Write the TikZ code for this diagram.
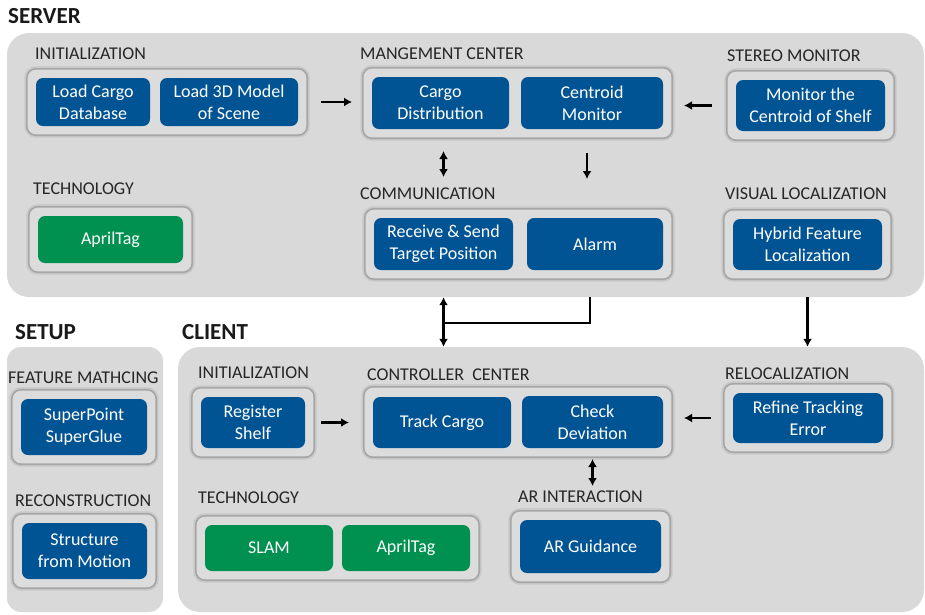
\documentclass[tikz,border=0pt]{standalone}
\usepackage{fontspec}
\setmainfont{Carlito}
\usetikzlibrary{arrows.meta,positioning,fit,calc}
\definecolor{panelgray}{HTML}{D9D9D9}
\definecolor{framefill}{HTML}{DCDCDC}
\definecolor{frameedge}{HTML}{A6A6A6}
\definecolor{frameglow}{HTML}{C8C8C8}
\definecolor{taskblue}{HTML}{005494}
\definecolor{techgreen}{HTML}{009150}
\pgfdeclarelayer{panels}
\pgfdeclarelayer{frames}
\pgfsetlayers{panels,frames,main}

\begin{document}
\begin{tikzpicture}[
    x=1pt, y=-1pt,
    task/.style={rectangle, fill=taskblue, rounded corners=7pt, text=white, align=center, font=\fontsize{18}{22}\selectfont, inner sep=0pt, minimum height=52pt},
    tech/.style={task, fill=techgreen, minimum height=47pt},
    grp/.style={rectangle, rounded corners=9pt, fill=framefill, draw=frameedge, line width=1.6pt, inner sep=9pt, preaction={draw=frameglow, line width=5pt}},
    grplabel/.style={anchor=base west, inner sep=0pt, font=\fontsize{18}{22}\selectfont, text=black!85},
    title/.style={anchor=base west, inner sep=0pt, font=\fontsize{23}{28}\selectfont\bfseries, text=black!90},
    panel/.style={rectangle, fill=panelgray, inner sep=0pt},
    arrow/.style={-{Latex[length=8pt,width=9pt]}, line width=2.2pt},
    biarrow/.style={{Latex[length=8pt,width=9pt]}-{Latex[length=8pt,width=9pt]}, line width=2.2pt}
]
\useasboundingbox (0,0) rectangle (925,614);

% server
\node[task, minimum width=114pt, minimum height=48pt] (loaddb) at (93,102) {Load Cargo\\Database};
\node[task, minimum width=138pt, minimum height=48pt] (loadmodel) at (229,102) {Load 3D Model\\of Scene};
\node[task, minimum width=137pt] (cargodist) at (440.5,103) {Cargo\\Distribution};
\node[task, minimum width=142pt] (centroid) at (592,103) {Centroid\\Monitor};
\node[task, minimum width=149pt, minimum height=51pt] (monshelf) at (810.5,105.5) {Monitor the\\Centroid of Shelf};
\node[tech, minimum width=145pt] (apriltagsrv) at (110.5,239.5) {AprilTag};
\node[task, minimum width=139pt] (recvsend) at (443.5,244) {Receive \& Send\\Target Position};
\node[task, minimum width=136pt] (alarm) at (595,244) {Alarm};
\node[task, minimum width=149pt, minimum height=51pt] (hybrid) at (807.5,244.5) {Hybrid Feature\\Localization};

% client
\node[task, minimum width=104pt, minimum height=51pt] (regshelf) at (253,422.5) {Register\\Shelf};
\node[task, minimum width=138pt, minimum height=51pt] (trackcargo) at (442,422.5) {Track Cargo};
\node[task, minimum width=141pt] (checkdev) at (592.5,422) {Check\\Deviation};
\node[task, minimum width=150pt, minimum height=50pt] (refine) at (808,418) {Refine Tracking\\Error};
\node[tech, minimum width=128pt, minimum height=46pt] (slam) at (269,548) {SLAM};
\node[tech, minimum width=128pt, minimum height=46pt] (apriltagcli) at (406,548) {AprilTag};
\node[task, minimum width=141pt, minimum height=53pt] (arguide) at (590.5,546.5) {AR Guidance};

% setup
\node[task, minimum width=126pt, minimum height=56pt] (superpt) at (84,427) {SuperPoint\\SuperGlue};
\node[task, minimum width=125pt, minimum height=56pt] (sfm) at (84.5,551) {Structure\\from Motion};

\begin{pgfonlayer}{frames}
\node[grp, fit=(loaddb)(loadmodel)] (srvinit) {};
\node[grp, fit=(cargodist)(centroid)] (mgmt) {};
\node[grp, fit=(monshelf)] (stereo) {};
\node[grp, fit=(apriltagsrv)] (srvtech) {};
\node[grp, fit=(recvsend)(alarm)] (comm) {};
\node[grp, fit=(hybrid)] (visloc) {};
\node[grp, fit=(regshelf)] (cliinit) {};
\node[grp, fit=(trackcargo)(checkdev)] (ctrl) {};
\node[grp, fit=(refine)] (reloc) {};
\node[grp, fit=(slam)(apriltagcli)] (clitech) {};
\node[grp, fit=(arguide)] (arint) {};
\node[grp, fit=(superpt)] (featmatch) {};
\node[grp, fit=(sfm)] (recon) {};
\end{pgfonlayer}

\begin{pgfonlayer}{panels}
\node[panel, rounded corners=22pt, fit={(7,33)(924,297)}] (server) {};
\node[panel, rounded corners=14pt, fit={(7,347)(163,612)}] (setup) {};
\node[panel, rounded corners=22pt, fit={(178,347)(924,612)}] (client) {};
\end{pgfonlayer}

\node[title] (servertitle) at (8,23) {SERVER};
\node[title] (setuptitle) at (15,339) {SETUP};
\node[title] (clienttitle) at (182,339) {CLIENT};

\node[grplabel] (srvinitlbl) at (35,59) {INITIALIZATION};
\node[grplabel] (mgmtlbl) at (360,59) {MANGEMENT CENTER};
\node[grplabel] (stereolbl) at (727,61) {STEREO MONITOR};
\node[grplabel] (srvtechlbl) at (33,194) {TECHNOLOGY};
\node[grplabel] (commlbl) at (360,199) {COMMUNICATION};
\node[grplabel] (visloclbl) at (725,199) {VISUAL LOCALIZATION};
\node[grplabel] (cliinitlbl) at (198,378) {INITIALIZATION};
\node[grplabel] (ctrllbl) at (367,380) {CONTROLLER~~CENTER};
\node[grplabel] (reloclbl) at (725,379) {RELOCALIZATION};
\node[grplabel] (clitechlbl) at (198,503) {TECHNOLOGY};
\node[grplabel] (arintlbl) at (518,502) {AR INTERACTION};
\node[grplabel] (featmatchlbl) at (8,383) {FEATURE MATHCING};
\node[grplabel] (reconlbl) at (15,506) {RECONSTRUCTION};

\draw[arrow, shorten <=13pt, shorten >=10pt] (srvinit.east) -- (srvinit.east -| mgmt.west);
\draw[arrow, shorten <=14pt, shorten >=11pt] (stereo.west) -- (stereo.west -| mgmt.east);
\draw[biarrow] ([yshift=-12pt]mgmt.south -| recvsend) -- ([yshift=31pt]comm.north -| recvsend);
\draw[arrow] ([xshift=-5pt,yshift=-14pt]mgmt.south -| centroid) -- ([xshift=-5pt,yshift=29pt]comm.north -| centroid);
\draw[biarrow] (server.south -| recvsend) -- (client.north -| recvsend);
\coordinate (commjoin) at ($(server.south -| recvsend)!0.52!(client.north -| recvsend)$);
\draw[line width=2.2pt] ([xshift=-5pt]server.south -| alarm) |- (commjoin);
\draw[arrow] (server.south -| hybrid) -- (client.north -| hybrid);
\draw[arrow, shorten <=6pt, shorten >=14pt] (cliinit.east) -- (cliinit.east -| ctrl.west);
\draw[arrow, shorten <=12pt, shorten >=11pt] (reloc.west) -- (reloc.west -| ctrl.east);
\draw[biarrow] ([yshift=-1pt]ctrl.south -| checkdev) -- ([yshift=24pt]arint.north -| checkdev);
\end{tikzpicture}
\end{document}
